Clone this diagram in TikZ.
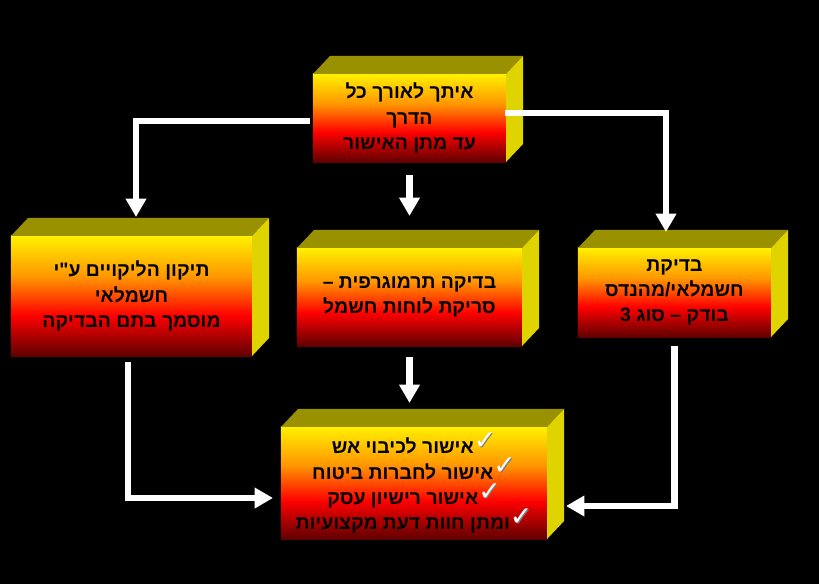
\documentclass[tikz,border=0pt]{standalone}
\usepackage{fontspec}
\newfontfamily\hebfont[Script=Hebrew]{Liberation Sans}
\newfontfamily\symfont{DejaVu Sans}
\TeXXeTstate=1
\usetikzlibrary{positioning, calc, arrows.meta}

\definecolor{boxyellow}{RGB}{255,240,0}
\definecolor{boxorange}{RGB}{255,150,0}
\definecolor{boxred}{RGB}{255,0,0}
\definecolor{boxdark}{RGB}{96,0,0}
\definecolor{boxtop}{RGB}{153,145,0}
\definecolor{boxside}{RGB}{224,212,0}

\pgfdeclareverticalshading{boxfill}{100bp}{color(0bp)=(boxdark); color(25bp)=(boxdark); color(42bp)=(boxred); color(58bp)=(boxorange); color(75bp)=(boxyellow); color(100bp)=(boxyellow)}

\tikzset{
  front/.style={rectangle, shading=boxfill, inner sep=0pt, outer sep=0pt, align=center,
    font=\hebfont\bfseries\fontsize{13.8}{18}\selectfont},
  flow/.style={draw=white, line width=4.3pt, -{Triangle[width=14pt,length=13pt]}}
}

% top and right faces of a box
\newcommand{\boxsides}[1]{%
  \fill[boxtop] (#1.north west) -- ++(17,-18) -- ($(#1.north east)+(17,-18)$) -- (#1.north east) -- cycle;
  \fill[boxside] (#1.north east) -- ++(17,-18) -- ($(#1.south east)+(17,-18)$) -- (#1.south east) -- cycle;}

% white tick with a grey shadow, set after the right-to-left text
\newcommand{\tick}{{\symfont\fontsize{19}{19}\selectfont
  \raisebox{3pt}{\rlap{\kern0.8pt\raisebox{-0.8pt}{\textcolor{gray}{✓}}}\textcolor{white}{✓}}}}

\begin{document}
\begin{tikzpicture}[x=0.025cm, y=-0.025cm]
  \fill[black] (0,0) rectangle (819,584);

  % boxes
  \node[front, minimum width=4.825cm, minimum height=2.2cm] (top) at (409.5,118)
    {\beginR איתך לאורך כל\endR\\ \beginR הדרך\endR\\ \beginR עד מתן האישור\endR};
  \node[front, minimum width=6.025cm, minimum height=3cm] (lft) at (131.5,296)
    {\beginR תיקון הליקויים ע"י\endR\\ \beginR חשמלאי\endR\\ \beginR מוסמך בתם הבדיקה\endR};
  \node[front, minimum width=5.625cm, minimum height=2.45cm] (mid) at (409.5,297)
    {\beginR בדיקה תרמוגרפית –\endR\\ \beginR סריקת לוחות חשמל\endR};
  \node[front, minimum width=4.825cm, minimum height=2.225cm] (rgt) at (674.5,292.5)
    {\beginR בדיקת\endR\\ \beginR חשמלאי/מהנדס\endR\\ \beginR בודק – סוג 3\endR};
  \node[front, minimum width=6.65cm, minimum height=2.8cm] (bot) at (414,483)
    {\beginR אישור לכיבוי אש\endR\tick\\ \beginR אישור לחברות ביטוח\endR\tick\\
     \beginR אישור רישיון עסק\endR\tick\\ \beginR ומתן חוות דעת מקצועיות\endR\tick};
  \boxsides{top}
  \boxsides{lft}
  \boxsides{mid}
  \boxsides{rgt}
  \boxsides{bot}

  % arrows
  \draw[flow] ($(top.west)+(-3,3)$) -| ($(lft.north)+(4.5,-19)$);
  \draw[flow] ($(top.east)+(-1,-5)$) -| ($(rgt.north)+(-8.5,-16)$);
  \draw[flow] ($(top.south)+(0,13)$) -- ($(mid.north)+(0,-32)$);
  \draw[flow] ($(mid.south)+(0,11)$) -- ($(mid.south |- bot.north)+(0,-24)$);
  \draw[flow] ($(lft.south)+(-3.5,6)$) |- ($(bot.west)+(-8,15)$);
  \draw[flow] ($(rgt.south)+(0,9)$) |- ($(bot.east)+(19,23)$);
\end{tikzpicture}
\end{document}
